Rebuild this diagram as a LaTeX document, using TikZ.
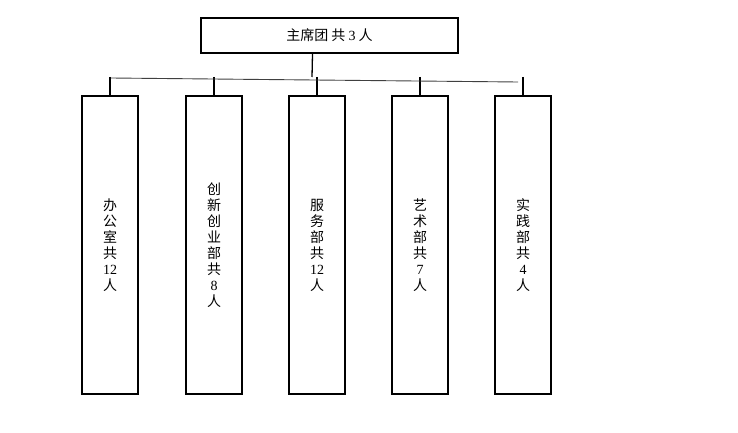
\documentclass[tikz,border=0pt]{standalone}
\usepackage{fontspec}
\setmainfont{Liberation Serif}
\newfontfamily\cjk{Noto Sans CJK SC}
\begin{document}
\begin{tikzpicture}[x=1pt,y=-1pt,
  box/.style={draw,line width=2.2pt,inner sep=0pt},
  lbl/.style={font=\cjk\fontsize{14}{17}\selectfont,align=center},
  tick/.style={line width=1.3pt}]
\useasboundingbox (0,0) rectangle (738,433);
\node[box,minimum width=257pt,minimum height=35pt] (top) at (329.5,35.5) {};
\node[lbl] at (top) {主席团 共 {\rmfamily 3} 人};
\foreach \n/\x/\t in {a/110/{办\\公\\室\\共\\{\rmfamily 12}\\人},
                      b/214/{创\\新\\创\\业\\部\\共\\{\rmfamily 8}\\人},
                      c/317/{服\\务\\部\\共\\{\rmfamily 12}\\人},
                      d/420/{艺\\术\\部\\共\\{\rmfamily 7}\\人},
                      e/523/{实\\践\\部\\共\\{\rmfamily 4}\\人}}{
  \node[box,minimum width=56pt,minimum height=298pt] (\n) at (\x,245) {};
  \node[lbl,font=\cjk\fontsize{14}{16}\selectfont] at (\n) {\t};
  \coordinate (t\n) at (\x,77);
  \draw[tick] (t\n) -- (\n.north);
}
\coordinate (hl) at (111,78);
\coordinate (hr) at (518,82);
\coordinate (mid) at (312,77);
\draw[line width=0.9pt,black!75] (hl) -- (hr);
\draw[tick] (top.south) ++(-17,0) coordinate (ts) -- (mid);
\end{tikzpicture}
\end{document}
